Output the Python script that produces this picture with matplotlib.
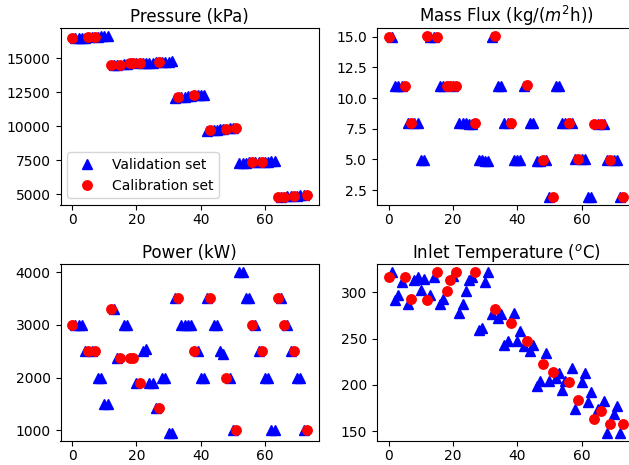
import numpy as np
import matplotlib
matplotlib.use("Agg")
import matplotlib.pyplot as plt

# sample number of each experiment
sample_ids = np.arange(74)

# calibration samples (rest are validation)
calibration_ids = [0, 5, 7, 12, 15, 18, 19, 21, 27, 33, 38, 43, 48, 51, 56, 59, 64, 66, 69, 73]

pressure_kpa = [
    16460, 16480, 16490, 16500, 16510, 16530, 16540, 16570, 16580, 16600, 16610, 16630,
    14520, 14510, 14490, 14480, 14560, 14580, 14630, 14640, 14630, 14640, 14660, 14650,
    14670, 14680, 14690, 14710, 14720, 14730, 14740, 14760,
    12080, 12110, 12140, 12160, 12190, 12210, 12280, 12260, 12290, 12310,
    9660, 9680, 9720, 9740, 9780, 9800, 9820, 9840, 9850, 9870,
    7300, 7310, 7320, 7330, 7345, 7350, 7360, 7370, 7380, 7390, 7400, 7420,
    4790, 4800, 4820, 4840, 4850, 4870, 4880, 4900, 4920, 4940,
]

mass_flux = [
    15.0, 15.0, 11.0, 11.0, 11.0, 11.0, 7.95, 7.95, 7.95, 7.95, 4.95, 4.95,
    15.05, 15.0, 15.0, 15.0, 11.0, 11.0, 10.95, 10.95, 11.0, 11.0,
    7.95, 7.95, 7.95, 7.9, 7.9, 7.95, 4.95, 4.95, 4.9, 4.9,
    15.0, 15.05, 11.0, 11.0, 7.95, 7.95, 7.95, 4.95, 4.95, 4.95,
    11.0, 11.05, 8.0, 8.0, 4.9, 4.9, 4.95, 4.95, 1.95, 1.95,
    11.0, 11.0, 8.0, 8.0, 8.0, 8.0, 5.0, 5.0, 5.0, 5.0, 1.95, 1.95,
    7.85, 7.85, 7.85, 7.85, 4.95, 4.95, 4.95, 4.95, 1.95, 1.95,
]

power_kw = [
    3000, 3000, 3000, 3000, 2500, 2500, 2500, 2500, 2000, 2000, 1500, 1500,
    3300, 3300, 2370, 2370, 3000, 3000, 2370, 2370, 1900, 1900,
    2500, 2550, 1900, 1900, 1430, 1430, 2000, 2000, 950, 950,
    3500, 3500, 3000, 3000, 3000, 3000, 2500, 2500, 2000, 2000,
    3500, 3500, 3000, 3000, 2500, 2450, 2000, 2000, 1000, 1000,
    4000, 4000, 3500, 3500, 3000, 3000, 2500, 2500, 2000, 2000, 1000, 1000,
    3500, 3500, 3000, 3000, 2500, 2500, 2000, 2000, 1000, 1000,
]

inlet_temp_c = [
    317, 322, 292, 297, 311, 317, 287, 293, 313, 317, 303, 314,
    292, 297, 317, 322, 287, 293, 302, 313, 318, 322,
    278, 287, 302, 313, 317, 322, 259, 262, 311, 322,
    277, 282, 272, 277, 243, 247, 267, 278, 247, 258,
    242, 247, 237, 243, 199, 204, 223, 234, 204, 214,
    207, 213, 194, 204, 203, 218, 174, 184, 203, 213, 182, 192,
    163, 174, 172, 183, 148, 158, 168, 177, 148, 158,
]

titles = ["Pressure (kPa)", r"Mass Flux (kg/($m^2$h))", "Power (kW)", r"Inlet Temperature ($^o$C)"]
series = [pressure_kpa, mass_flux, power_kw, inlet_temp_c]

plt.rcParams['font.family'] = ['DejaVu Sans']
fig = plt.figure(figsize=(6.29, 4.65), dpi=100)

W, H = 629, 465
boxes = [(60.5, 28, 258, 177), (377, 28, 258, 177), (60.5, 264, 258, 177), (377, 264, 258, 177)]

cal_mask = np.isin(sample_ids, calibration_ids)
val_mask = ~cal_mask

for i, (title, vals) in enumerate(zip(titles, series)):
    x0, y0, w, h = boxes[i]
    ax = fig.add_axes([x0 / W, 1 - (y0 + h) / H, w / W, h / H])
    vals = np.asarray(vals, dtype=float)
    ax.plot(sample_ids[val_mask], vals[val_mask], 'b^', markersize=7, label='Validation set')
    ax.plot(sample_ids[cal_mask], vals[cal_mask], 'ro', markersize=6.8, label='Calibration set')
    ax.set_title(title, fontsize=12, pad=4)
    ax.tick_params(labelsize=10)
    ax.tick_params(axis='x', pad=2.5)
    ax.set_xticks([0, 20, 40, 60])
    if i == 0:
        ax.legend(loc='lower left', fontsize=10, numpoints=1)

fig.savefig("out.png", dpi=100)
